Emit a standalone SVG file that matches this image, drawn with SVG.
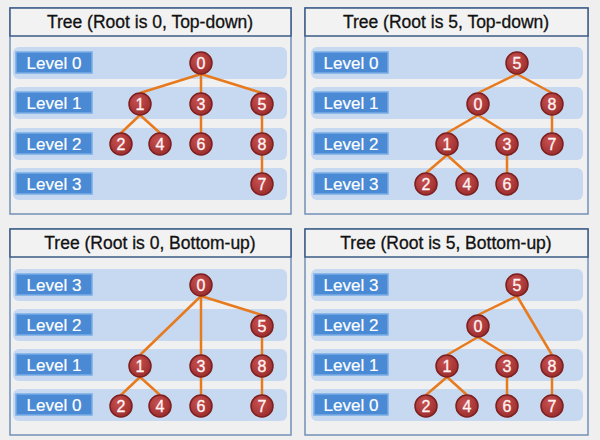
<svg xmlns="http://www.w3.org/2000/svg" width="600" height="440" viewBox="0 0 600 440">
<style>
.frame{fill:#f0f0f0;stroke:#7391b8;stroke-width:1.5}
.title{fill:#f2f2f2;stroke:#3b5b85;stroke-width:1.5}
.ttext{font-family:"Liberation Sans",Arial,sans-serif;font-size:17.5px;fill:#111;stroke:#111;stroke-width:0.3;text-anchor:middle}
.band{fill:#c6d9f1}
.lab{fill:#4a8ad5;stroke:#78ace6;stroke-width:1.5}
.ltext{font-family:"Liberation Sans",Arial,sans-serif;font-size:17px;fill:#fff;stroke:#fff;stroke-width:0.2;text-anchor:middle}
.edge{stroke:#e87a1e;stroke-width:2.5;fill:none}
.node circle{fill:url(#ng);stroke:#7c1f1f;stroke-width:1.5}
.node text{font-family:"Liberation Sans",Arial,sans-serif;font-size:16px;fill:#fff4f4;stroke:#fff4f4;stroke-width:0.3;text-anchor:middle}
</style>
<defs>
<radialGradient id="ng" cx="0.4" cy="0.35" r="0.7">
<stop offset="0" stop-color="#c85050"/>
<stop offset="1" stop-color="#9a2c2c"/>
</radialGradient>
</defs>
<rect width="600" height="440" fill="#efefef"/>

<g id="panel1">
<rect class="frame" x="10" y="8" width="281" height="206"/>
<rect class="title" x="10" y="8" width="281" height="28"/>
<text class="ttext" x="150" y="28">Tree (Root is 0, Top-down)</text>
<rect class="band" x="13" y="47" width="274" height="32" rx="6"/>
<rect class="band" x="13" y="87" width="274" height="32" rx="6"/>
<rect class="band" x="13" y="128" width="274" height="32" rx="6"/>
<rect class="band" x="13" y="168" width="274" height="32" rx="6"/>
<rect class="lab" x="16" y="52" width="76" height="21"/><text class="ltext" x="54" y="69">Level 0</text>
<rect class="lab" x="16" y="92" width="76" height="21"/><text class="ltext" x="54" y="109">Level 1</text>
<rect class="lab" x="16" y="133" width="76" height="21"/><text class="ltext" x="54" y="150">Level 2</text>
<rect class="lab" x="16" y="173" width="76" height="21"/><text class="ltext" x="54" y="190">Level 3</text>
</g>

<g id="panel2">
<rect class="frame" x="305" y="8" width="283" height="206"/>
<rect class="title" x="305" y="8" width="283" height="28"/>
<text class="ttext" x="446" y="28">Tree (Root is 5, Top-down)</text>
<rect class="band" x="311" y="47" width="272" height="32" rx="6"/>
<rect class="band" x="311" y="87" width="272" height="32" rx="6"/>
<rect class="band" x="311" y="128" width="272" height="32" rx="6"/>
<rect class="band" x="311" y="168" width="272" height="32" rx="6"/>
<rect class="lab" x="314" y="52" width="74" height="21"/><text class="ltext" x="351" y="69">Level 0</text>
<rect class="lab" x="314" y="92" width="74" height="21"/><text class="ltext" x="351" y="109">Level 1</text>
<rect class="lab" x="314" y="133" width="74" height="21"/><text class="ltext" x="351" y="150">Level 2</text>
<rect class="lab" x="314" y="173" width="74" height="21"/><text class="ltext" x="351" y="190">Level 3</text>
</g>

<g id="panel3">
<rect class="frame" x="10" y="229" width="281" height="206"/>
<rect class="title" x="10" y="229" width="281" height="28"/>
<text class="ttext" x="150" y="249">Tree (Root is 0, Bottom-up)</text>
<rect class="band" x="13" y="269" width="274" height="32" rx="6"/>
<rect class="band" x="13" y="309" width="274" height="32" rx="6"/>
<rect class="band" x="13" y="349" width="274" height="32" rx="6"/>
<rect class="band" x="13" y="389" width="274" height="32" rx="6"/>
<rect class="lab" x="16" y="274" width="76" height="21"/><text class="ltext" x="54" y="291">Level 3</text>
<rect class="lab" x="16" y="314" width="76" height="21"/><text class="ltext" x="54" y="331">Level 2</text>
<rect class="lab" x="16" y="354" width="76" height="21"/><text class="ltext" x="54" y="371">Level 1</text>
<rect class="lab" x="16" y="394" width="76" height="21"/><text class="ltext" x="54" y="411">Level 0</text>
</g>

<g id="panel4">
<rect class="frame" x="305" y="229" width="283" height="206"/>
<rect class="title" x="305" y="229" width="283" height="28"/>
<text class="ttext" x="446" y="249">Tree (Root is 5, Bottom-up)</text>
<rect class="band" x="311" y="269" width="272" height="32" rx="6"/>
<rect class="band" x="311" y="309" width="272" height="32" rx="6"/>
<rect class="band" x="311" y="349" width="272" height="32" rx="6"/>
<rect class="band" x="311" y="389" width="272" height="32" rx="6"/>
<rect class="lab" x="314" y="274" width="74" height="21"/><text class="ltext" x="351" y="291">Level 3</text>
<rect class="lab" x="314" y="314" width="74" height="21"/><text class="ltext" x="351" y="331">Level 2</text>
<rect class="lab" x="314" y="354" width="74" height="21"/><text class="ltext" x="351" y="371">Level 1</text>
<rect class="lab" x="314" y="394" width="74" height="21"/><text class="ltext" x="351" y="411">Level 0</text>
</g>

<g id="connectors">
<line class="edge" x1="201" y1="74" x2="140" y2="93"/>
<line class="edge" x1="201" y1="74" x2="201" y2="93"/>
<line class="edge" x1="201" y1="74" x2="262" y2="93"/>
<line class="edge" x1="140" y1="115" x2="121" y2="133"/>
<line class="edge" x1="140" y1="115" x2="160" y2="133"/>
<line class="edge" x1="201" y1="115" x2="201" y2="133"/>
<line class="edge" x1="262" y1="115" x2="262" y2="133"/>
<line class="edge" x1="262" y1="155" x2="262" y2="173"/>
<line class="edge" x1="517" y1="74" x2="478" y2="93"/>
<line class="edge" x1="517" y1="74" x2="552" y2="93"/>
<line class="edge" x1="478" y1="115" x2="447" y2="133"/>
<line class="edge" x1="478" y1="115" x2="507" y2="133"/>
<line class="edge" x1="552" y1="115" x2="552" y2="133"/>
<line class="edge" x1="447" y1="155" x2="426" y2="173"/>
<line class="edge" x1="447" y1="155" x2="467" y2="173"/>
<line class="edge" x1="507" y1="155" x2="507" y2="173"/>
<line class="edge" x1="201" y1="296" x2="262" y2="315"/>
<line class="edge" x1="201" y1="296" x2="140" y2="355"/>
<line class="edge" x1="201" y1="296" x2="201" y2="355"/>
<line class="edge" x1="262" y1="337" x2="262" y2="355"/>
<line class="edge" x1="140" y1="377" x2="121" y2="395"/>
<line class="edge" x1="140" y1="377" x2="160" y2="395"/>
<line class="edge" x1="201" y1="377" x2="201" y2="395"/>
<line class="edge" x1="262" y1="377" x2="262" y2="395"/>
<line class="edge" x1="517" y1="296" x2="478" y2="315"/>
<line class="edge" x1="517" y1="296" x2="552" y2="355"/>
<line class="edge" x1="478" y1="337" x2="447" y2="355"/>
<line class="edge" x1="478" y1="337" x2="507" y2="355"/>
<line class="edge" x1="447" y1="377" x2="426" y2="395"/>
<line class="edge" x1="447" y1="377" x2="467" y2="395"/>
<line class="edge" x1="507" y1="377" x2="507" y2="395"/>
<line class="edge" x1="552" y1="377" x2="552" y2="395"/>
</g>

<g id="p1-n0" class="node"><circle cx="201" cy="63" r="11"/><text x="201" y="68.5">0</text></g>
<g id="p1-n1" class="node"><circle cx="140" cy="104" r="11"/><text x="140" y="109.5">1</text></g>
<g id="p1-n3" class="node"><circle cx="201" cy="104" r="11"/><text x="201" y="109.5">3</text></g>
<g id="p1-n5" class="node"><circle cx="262" cy="104" r="11"/><text x="262" y="109.5">5</text></g>
<g id="p1-n2" class="node"><circle cx="121" cy="144" r="11"/><text x="121" y="149.5">2</text></g>
<g id="p1-n4" class="node"><circle cx="160" cy="144" r="11"/><text x="160" y="149.5">4</text></g>
<g id="p1-n6" class="node"><circle cx="201" cy="144" r="11"/><text x="201" y="149.5">6</text></g>
<g id="p1-n8" class="node"><circle cx="262" cy="144" r="11"/><text x="262" y="149.5">8</text></g>
<g id="p1-n7" class="node"><circle cx="262" cy="184" r="11"/><text x="262" y="189.5">7</text></g>

<g id="p2-n5" class="node"><circle cx="517" cy="63" r="11"/><text x="517" y="68.5">5</text></g>
<g id="p2-n0" class="node"><circle cx="478" cy="104" r="11"/><text x="478" y="109.5">0</text></g>
<g id="p2-n8" class="node"><circle cx="552" cy="104" r="11"/><text x="552" y="109.5">8</text></g>
<g id="p2-n1" class="node"><circle cx="447" cy="144" r="11"/><text x="447" y="149.5">1</text></g>
<g id="p2-n3" class="node"><circle cx="507" cy="144" r="11"/><text x="507" y="149.5">3</text></g>
<g id="p2-n7" class="node"><circle cx="552" cy="144" r="11"/><text x="552" y="149.5">7</text></g>
<g id="p2-n2" class="node"><circle cx="426" cy="184" r="11"/><text x="426" y="189.5">2</text></g>
<g id="p2-n4" class="node"><circle cx="467" cy="184" r="11"/><text x="467" y="189.5">4</text></g>
<g id="p2-n6" class="node"><circle cx="507" cy="184" r="11"/><text x="507" y="189.5">6</text></g>

<g id="p3-n0" class="node"><circle cx="201" cy="285" r="11"/><text x="201" y="290.5">0</text></g>
<g id="p3-n5" class="node"><circle cx="262" cy="326" r="11"/><text x="262" y="331.5">5</text></g>
<g id="p3-n1" class="node"><circle cx="140" cy="366" r="11"/><text x="140" y="371.5">1</text></g>
<g id="p3-n3" class="node"><circle cx="201" cy="366" r="11"/><text x="201" y="371.5">3</text></g>
<g id="p3-n8" class="node"><circle cx="262" cy="366" r="11"/><text x="262" y="371.5">8</text></g>
<g id="p3-n2" class="node"><circle cx="121" cy="406" r="11"/><text x="121" y="411.5">2</text></g>
<g id="p3-n4" class="node"><circle cx="160" cy="406" r="11"/><text x="160" y="411.5">4</text></g>
<g id="p3-n6" class="node"><circle cx="201" cy="406" r="11"/><text x="201" y="411.5">6</text></g>
<g id="p3-n7" class="node"><circle cx="262" cy="406" r="11"/><text x="262" y="411.5">7</text></g>

<g id="p4-n5" class="node"><circle cx="517" cy="285" r="11"/><text x="517" y="290.5">5</text></g>
<g id="p4-n0" class="node"><circle cx="478" cy="326" r="11"/><text x="478" y="331.5">0</text></g>
<g id="p4-n1" class="node"><circle cx="447" cy="366" r="11"/><text x="447" y="371.5">1</text></g>
<g id="p4-n3" class="node"><circle cx="507" cy="366" r="11"/><text x="507" y="371.5">3</text></g>
<g id="p4-n8" class="node"><circle cx="552" cy="366" r="11"/><text x="552" y="371.5">8</text></g>
<g id="p4-n2" class="node"><circle cx="426" cy="406" r="11"/><text x="426" y="411.5">2</text></g>
<g id="p4-n4" class="node"><circle cx="467" cy="406" r="11"/><text x="467" y="411.5">4</text></g>
<g id="p4-n6" class="node"><circle cx="507" cy="406" r="11"/><text x="507" y="411.5">6</text></g>
<g id="p4-n7" class="node"><circle cx="552" cy="406" r="11"/><text x="552" y="411.5">7</text></g>
</svg>
